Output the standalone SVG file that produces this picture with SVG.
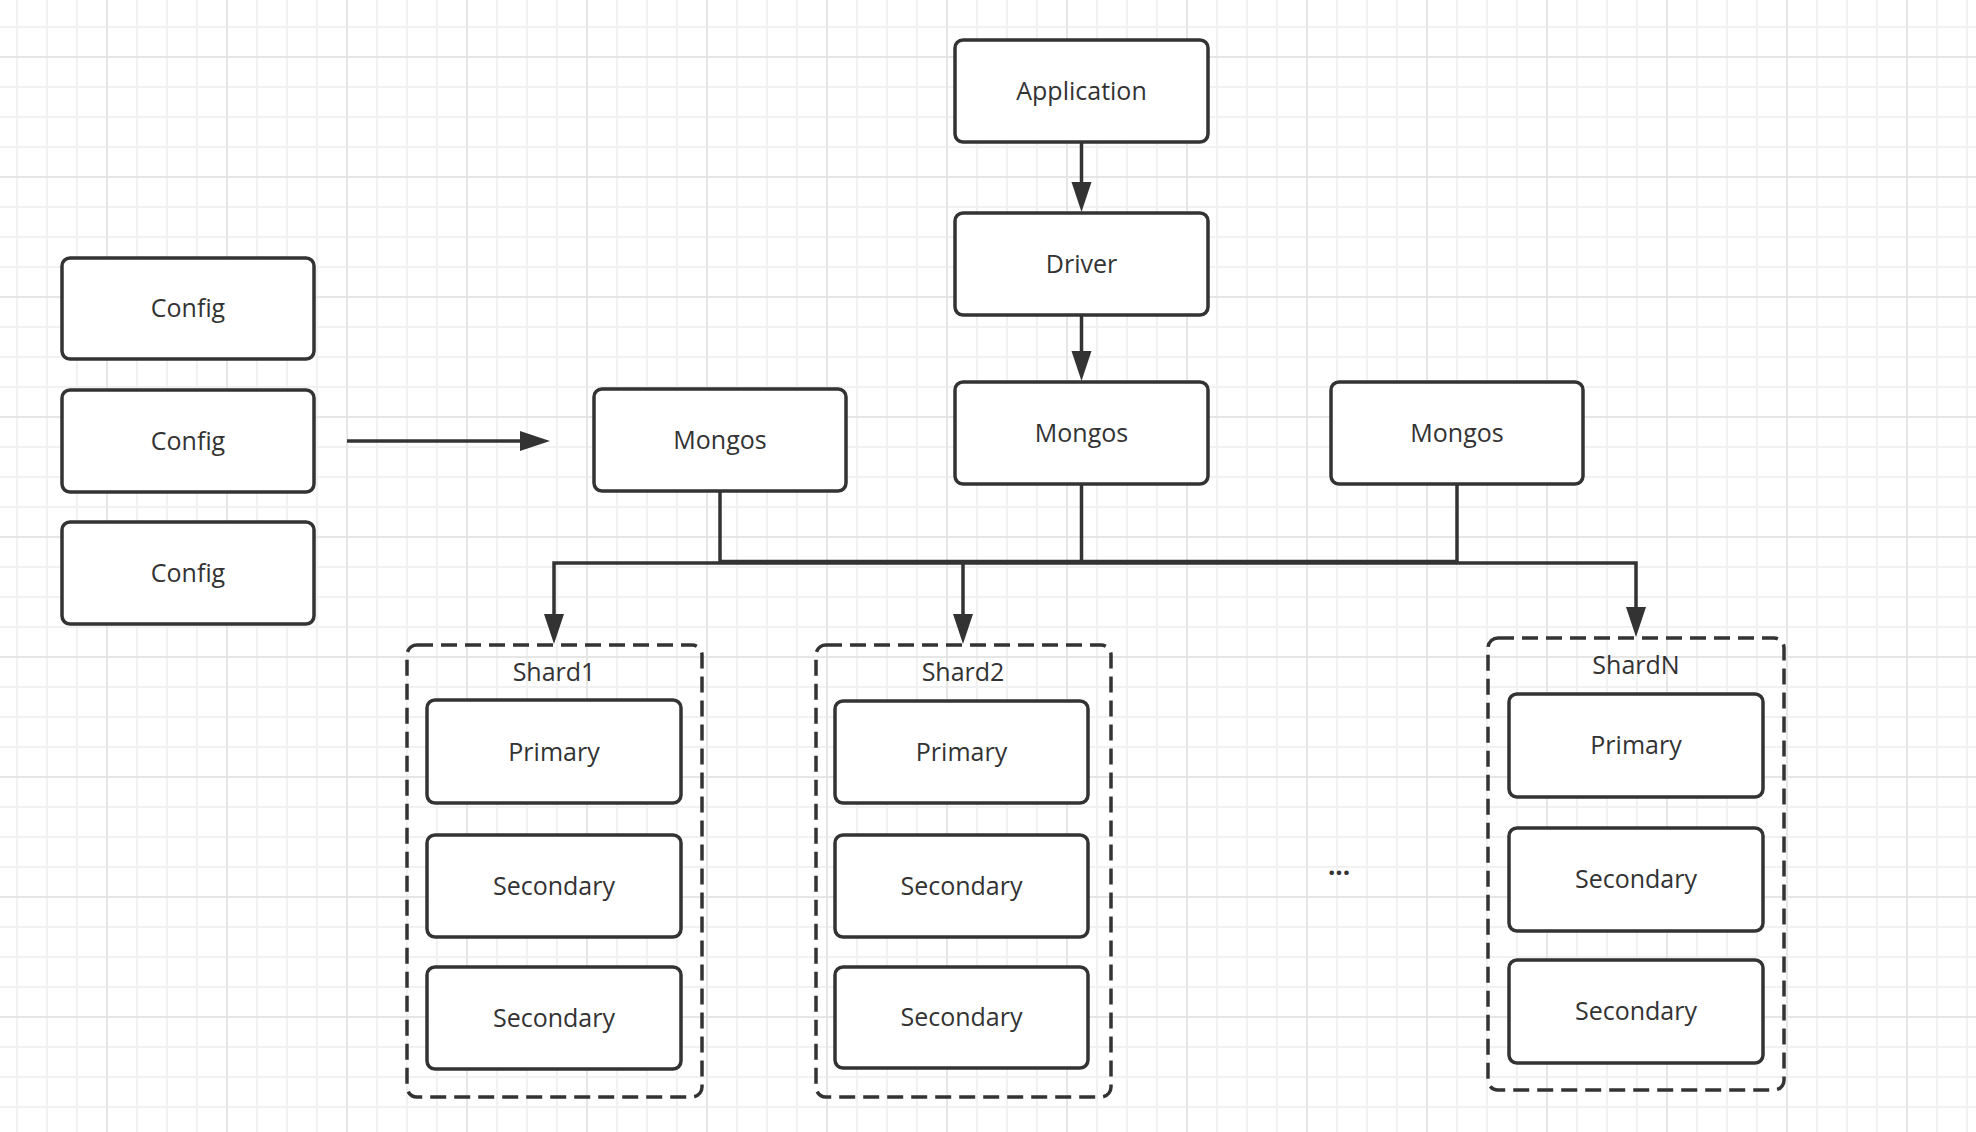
<svg xmlns="http://www.w3.org/2000/svg" width="1976" height="1132" viewBox="0 0 1976 1132">
<style>
.box{fill:#ffffff;stroke:#333333;stroke-width:3.5}
.grp{fill:none;stroke:#333333;stroke-width:3.5;stroke-dasharray:16 8}
.lbl{font-family:"Open Sans","Liberation Sans",sans-serif;font-size:25px;fill:#333333;text-anchor:middle}
.dots{font-family:"Open Sans","Liberation Sans",sans-serif;font-size:26px;font-weight:bold;fill:#333333;text-anchor:middle}
.ln{fill:none;stroke:#333333;stroke-width:3.5;stroke-linejoin:miter}
</style>
<defs>
<pattern id="minor" x="16" y="26" width="30" height="30" patternUnits="userSpaceOnUse">
<rect x="0" y="0" width="2" height="30" fill="#f1f1f1"/>
<rect x="0" y="0" width="30" height="2" fill="#f1f1f1"/>
</pattern>
<pattern id="major" x="106" y="56" width="120" height="120" patternUnits="userSpaceOnUse">
<rect x="0" y="0" width="2" height="120" fill="#e6e6e6"/>
<rect x="0" y="0" width="120" height="2" fill="#e6e6e6"/>
</pattern>
<marker id="arr" markerUnits="userSpaceOnUse" markerWidth="32" markerHeight="22" refX="1" refY="10" orient="auto" overflow="visible">
<path d="M0,0 L30,10 L0,20 Z" fill="#333333"/>
</marker>
</defs>
<rect x="0" y="0" width="1976" height="1132" fill="#ffffff"/>
<rect x="0" y="0" width="1976" height="1132" fill="url(#minor)"/>
<rect x="0" y="0" width="1976" height="1132" fill="url(#major)"/>

<g id="connectors">
<line class="ln" x1="1081.5" y1="142" x2="1081.5" y2="183" marker-end="url(#arr)"/>
<line class="ln" x1="1081.5" y1="315" x2="1081.5" y2="352" marker-end="url(#arr)"/>
<line class="ln" x1="347" y1="441" x2="521" y2="441" marker-end="url(#arr)"/>
<line class="ln" x1="720" y1="491" x2="720" y2="563"/>
<line class="ln" x1="1081.5" y1="484" x2="1081.5" y2="563"/>
<line class="ln" x1="1457" y1="484" x2="1457" y2="563"/>
<line class="ln" x1="720" y1="561.5" x2="1457" y2="561.5"/>
<path class="ln" d="M720,563 H554 V615" marker-end="url(#arr)"/>
<path class="ln" d="M720,563 H963 V615" marker-end="url(#arr)"/>
<path class="ln" d="M963,563 H1636 V608" marker-end="url(#arr)"/>
</g>

<g id="application"><rect class="box" x="955" y="40" width="253" height="102" rx="8"/><text class="lbl" x="1081.5" y="100">Application</text></g>
<g id="driver"><rect class="box" x="955" y="213" width="253" height="102" rx="8"/><text class="lbl" x="1081.5" y="273">Driver</text></g>
<g id="mongos1"><rect class="box" x="594" y="389" width="252" height="102" rx="8"/><text class="lbl" x="720" y="449">Mongos</text></g>
<g id="mongos2"><rect class="box" x="955" y="382" width="253" height="102" rx="8"/><text class="lbl" x="1081.5" y="442">Mongos</text></g>
<g id="mongos3"><rect class="box" x="1331" y="382" width="252" height="102" rx="8"/><text class="lbl" x="1457" y="442">Mongos</text></g>
<g id="config1"><rect class="box" x="62" y="258" width="252" height="101" rx="8"/><text class="lbl" x="188" y="317">Config</text></g>
<g id="config2"><rect class="box" x="62" y="390" width="252" height="102" rx="8"/><text class="lbl" x="188" y="450">Config</text></g>
<g id="config3"><rect class="box" x="62" y="522" width="252" height="102" rx="8"/><text class="lbl" x="188" y="582">Config</text></g>

<g id="shard1">
<rect class="grp" x="407" y="645" width="295" height="452" rx="10"/>
<text class="lbl" x="554" y="681">Shard1</text>
<g id="shard1-primary"><rect class="box" x="427" y="700" width="254" height="103" rx="8"/><text class="lbl" x="554" y="761">Primary</text></g>
<g id="shard1-secondary1"><rect class="box" x="427" y="835" width="254" height="102" rx="8"/><text class="lbl" x="554" y="895">Secondary</text></g>
<g id="shard1-secondary2"><rect class="box" x="427" y="967" width="254" height="102" rx="8"/><text class="lbl" x="554" y="1027">Secondary</text></g>
</g>

<g id="shard2">
<rect class="grp" x="816" y="645" width="295" height="452" rx="10"/>
<text class="lbl" x="963" y="681">Shard2</text>
<g id="shard2-primary"><rect class="box" x="835" y="701" width="253" height="102" rx="8"/><text class="lbl" x="961.5" y="761">Primary</text></g>
<g id="shard2-secondary1"><rect class="box" x="835" y="835" width="253" height="102" rx="8"/><text class="lbl" x="961.5" y="895">Secondary</text></g>
<g id="shard2-secondary2"><rect class="box" x="835" y="967" width="253" height="101" rx="8"/><text class="lbl" x="961.5" y="1026">Secondary</text></g>
</g>

<g id="shardN">
<rect class="grp" x="1488" y="638" width="296" height="452" rx="10"/>
<text class="lbl" x="1636" y="674">ShardN</text>
<g id="shardN-primary"><rect class="box" x="1509" y="694" width="254" height="103" rx="8"/><text class="lbl" x="1636" y="754">Primary</text></g>
<g id="shardN-secondary1"><rect class="box" x="1509" y="828" width="254" height="103" rx="8"/><text class="lbl" x="1636" y="888">Secondary</text></g>
<g id="shardN-secondary2"><rect class="box" x="1509" y="960" width="254" height="103" rx="8"/><text class="lbl" x="1636" y="1020">Secondary</text></g>
</g>

<g id="ellipsis"><text class="dots" x="1339" y="875">...</text></g>
</svg>
